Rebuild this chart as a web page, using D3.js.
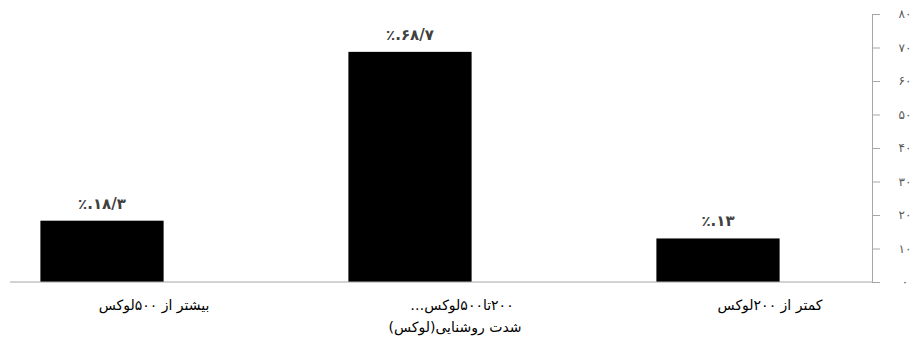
<!DOCTYPE html>
<html>
<head>
<meta charset="utf-8">
<script src="https://cdn.jsdelivr.net/npm/d3@7"></script>
<style>
  body { margin: 0; background: #fff; }
  text { font-family: "DejaVu Sans", sans-serif; }
</style>
</head>
<body>
<svg id="chart" width="916" height="340"></svg>
<script>
// categories in logical (RTL) order, first one drawn on the right
const categories = ["کمتر از ۲۰۰لوکس", "۲۰۰تا۵۰۰لوکس…", "بیشتر از ۵۰۰لوکس"];
const values = [13, 68.7, 18.3];
const valueLabels = ["٪.۱۳", "٪.۶۸/۷", "٪.۱۸/۳"];
const tickValues = [0, 10, 20, 30, 40, 50, 60, 70, 80];
const tickLabels = ["۰", "۱۰", "۲۰", "۳۰", "۴۰", "۵۰", "۶۰", "۷۰", "۸۰"];
const axisTitle = "شدت روشنایی(لوکس)";

const svg = d3.select("#chart");
const axisX = 872;
const baseY = 282;

const x = d3.scaleBand()
  .domain(categories)
  .range([axisX, -52])
  .paddingInner(0.6)
  .paddingOuter(0.3);

const y = d3.scaleLinear().domain([0, 80]).range([baseY, 14]);

// bars
svg.selectAll("rect.bar")
  .data(values)
  .enter()
  .append("rect")
  .attr("class", "bar")
  .attr("x", (d, i) => x(categories[i]))
  .attr("y", (d) => y(d))
  .attr("width", x.bandwidth())
  .attr("height", (d) => baseY - y(d))
  .attr("fill", "#000");

// baseline
svg.append("line")
  .attr("x1", 10)
  .attr("x2", axisX)
  .attr("y1", baseY)
  .attr("y2", baseY)
  .attr("stroke", "#a6a6a6")
  .attr("stroke-width", 1);

// value axis on the right
const yAxis = d3.axisRight(y)
  .tickValues(tickValues)
  .tickFormat((d, i) => tickLabels[i])
  .tickSizeInner(8)
  .tickSizeOuter(0)
  .tickPadding(25);

const gy = svg.append("g")
  .attr("transform", `translate(${axisX},0)`)
  .call(yAxis);
gy.select(".domain").attr("stroke", "#a6a6a6");
gy.selectAll(".tick line").attr("stroke", "#a6a6a6");
gy.selectAll(".tick text")
  .attr("text-anchor", "middle")
  .attr("font-size", 12)
  .attr("letter-spacing", 2)
  .attr("fill", "#595959");

// value labels (percent sign kept on the left)
svg.selectAll("text.val")
  .data(values)
  .enter()
  .append("text")
  .attr("class", "val")
  .attr("x", (d, i) => x(categories[i]) + x.bandwidth() / 2)
  .attr("y", (d) => y(d) - 12)
  .attr("text-anchor", "middle")
  .attr("font-size", 15)
  .attr("font-weight", "bold")
  .attr("letter-spacing", 3)
  .attr("fill", "#404040")
  .style("direction", "ltr")
  .style("unicode-bidi", "bidi-override")
  .text((d, i) => valueLabels[i]);

// category labels
svg.selectAll("text.cat")
  .data(categories)
  .enter()
  .append("text")
  .attr("class", "cat")
  .attr("x", (d) => x(d) + x.bandwidth() / 2 + 52)
  .attr("y", baseY + 28)
  .attr("text-anchor", "middle")
  .attr("direction", "rtl")
  .attr("font-size", 14)
  .attr("fill", "#000")
  .text((d) => d);

// axis title
svg.append("text")
  .attr("x", 455)
  .attr("y", 332)
  .attr("text-anchor", "middle")
  .attr("direction", "rtl")
  .attr("font-size", 14)
  .attr("fill", "#000")
  .text(axisTitle);
</script>
</body>
</html>
